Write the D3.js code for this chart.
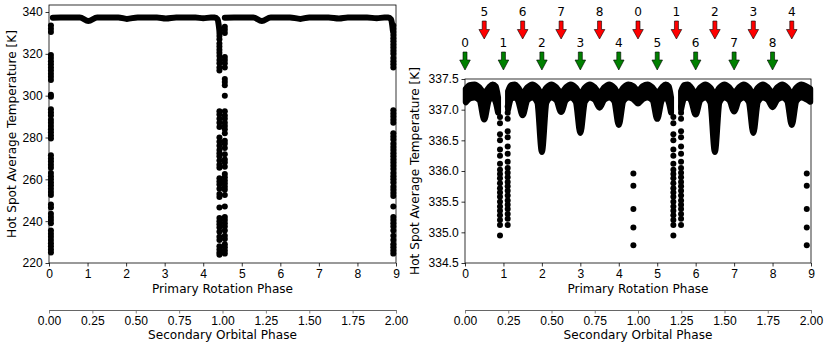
<!DOCTYPE html>
<html>
<head>
<meta charset="UTF-8" />
<script src="https://cdn.jsdelivr.net/npm/d3@7"></script>
<style>
  body { margin: 0; background: #fff; }
  svg { display: block; font-family: "DejaVu Sans", sans-serif; }
  .tick text { font-size: 12.1px; fill: #000; }
  .lbl { font-size: 12.1px; fill: #000; }
</style>
</head>
<body>
<svg width="831" height="348"></svg>
<script>
// ---- data ----
const primaryTicks = [0, 1, 2, 3, 4, 5, 6, 7, 8, 9];
const secondaryTicks = [0, 0.25, 0.5, 0.75, 1, 1.25, 1.5, 1.75, 2];
const leftTempTicks = [220, 240, 260, 280, 300, 320, 340];
const rightTempTicks = [334.5, 335, 335.5, 336, 336.5, 337, 337.5];

// left panel: the hot band (two pieces) and the vertical drops
const leftBand1Phase = [0.1, 0.3, 0.8, 1.02, 1.25, 1.8, 2.02, 2.3, 2.8, 3.03, 3.3, 3.8, 4.0, 4.2, 4.3, 4.37, 4.4, 4.42];
const leftBand1Temp = [337.3, 337.4, 337.4, 335.7, 337.4, 337.4, 336.7, 337.4, 337.4, 336.9, 337.4, 337.4, 337.0, 337.4, 337.4, 336.5, 334, 331];
const leftBand2Phase = [4.56, 4.8, 5.3, 5.52, 5.75, 6.25, 6.52, 6.75, 7.25, 7.52, 7.75, 8.25, 8.5, 8.7, 8.8, 8.87, 8.9, 8.92];
const leftBand2Temp = [337.3, 337.4, 337.4, 335.7, 337.4, 337.4, 336.7, 337.4, 337.4, 336.9, 337.4, 337.4, 337.0, 337.4, 337.4, 336.5, 334, 331];

const leftDropPhases = [0.05, 4.42, 4.56, 8.93];
const leftDrop0 = [333.5, 332, 330.5, 319.5, 318, 316.5, 315, 313.5, 312, 310.5, 309, 307.5, 300.5, 299.5, 293.5, 292, 290.5, 288.5, 287, 285.5, 284, 282.5, 281, 279.5, 271.5, 270, 268.5, 267, 265.5, 263, 261.5, 260, 258.5, 257, 255.5, 254, 252.5, 248, 246.5, 243.5, 242, 240.5, 239, 235.5, 234, 232.5, 231, 229.5, 228, 226.5, 225];
const leftDrop1 = [330, 328.5, 327, 325, 323.5, 322, 320.5, 319, 317, 315.5, 313.5, 312, 292.5, 291, 289, 287, 285, 280, 278, 276, 274, 272.5, 271, 269, 267, 265.5, 260.5, 259, 257.5, 255.5, 253, 251.5, 246.5, 241.5, 240, 238.5, 237, 235, 232.5, 231, 228, 226.5, 225, 224];
const leftDrop2 = [333, 331.5, 330, 318.5, 317, 315.5, 313.5, 308, 306.5, 305, 300, 292.5, 290.5, 289, 287, 285.5, 284, 282, 278.5, 277, 275, 272, 269.5, 268, 266, 262.5, 261, 259.5, 258, 256.5, 255, 252.5, 247, 242, 240.5, 239, 237.5, 235.5, 233, 231.5, 229, 227.5, 226, 224.5];
const leftDrop3 = [333.5, 332, 330.5, 329, 327.5, 326, 324.5, 323, 321.5, 320, 318, 316.5, 315, 313.5, 293, 291.5, 290, 288.5, 287, 282, 280.5, 279, 277, 275.5, 274, 272.5, 271, 269.5, 268, 266.5, 265, 263, 261.5, 260, 258.5, 256.5, 255, 253.5, 252, 247, 242, 240.5, 239, 237.5, 235.5, 233, 231, 229, 227.5, 226, 224.5];

// right panel: band envelopes in three pieces
const rightBandAPhase = [0.02, 0.12, 0.25, 0.38, 0.5, 0.62, 0.72, 0.8, 0.86];
const rightBandAUpper = [337.34, 337.4, 337.41, 337.36, 337.27, 337.36, 337.41, 337.38, 337.2];
const rightBandALower = [337.12, 337.18, 337.2, 337.15, 336.84, 337.15, 337.2, 337.12, 336.95];

const rightBandBPhase = [1.12, 1.2, 1.3, 1.38, 1.5, 1.62, 1.75, 1.88, 2.0, 2.12, 2.25, 2.38, 2.5, 2.62, 2.75, 2.88, 3.0, 3.12, 3.25, 3.38, 3.5, 3.62, 3.75, 3.88, 4.0, 4.12, 4.25, 4.38, 4.5, 4.62, 4.75, 4.88, 5.0, 5.12, 5.22, 5.3, 5.36];
const rightBandBUpper = [337.3, 337.4, 337.41, 337.36, 337.27, 337.36, 337.41, 337.36, 337.26, 337.36, 337.41, 337.36, 337.27, 337.36, 337.41, 337.36, 337.26, 337.36, 337.41, 337.36, 337.27, 337.36, 337.41, 337.36, 337.26, 337.36, 337.41, 337.38, 337.31, 337.38, 337.41, 337.36, 337.27, 337.36, 337.41, 337.38, 337.2];
const rightBandBLower = [337.0, 337.18, 337.2, 337.15, 336.91, 337.15, 337.2, 337.12, 336.31, 337.12, 337.2, 337.15, 336.96, 337.15, 337.2, 337.13, 336.62, 337.13, 337.2, 337.16, 337.03, 337.16, 337.2, 337.14, 336.75, 337.14, 337.2, 337.17, 337.1, 337.17, 337.2, 337.15, 336.85, 337.15, 337.2, 337.12, 336.95];

const rightBandCPhase = [5.62, 5.7, 5.8, 5.88, 6.0, 6.12, 6.25, 6.38, 6.5, 6.62, 6.75, 6.88, 7.0, 7.12, 7.25, 7.38, 7.5, 7.62, 7.75, 7.88, 8.0, 8.12, 8.25, 8.38, 8.5, 8.62, 8.75, 8.88, 8.98];
const rightBandCUpper = [337.3, 337.4, 337.41, 337.36, 337.27, 337.36, 337.41, 337.36, 337.26, 337.36, 337.41, 337.36, 337.27, 337.36, 337.41, 337.36, 337.26, 337.36, 337.41, 337.36, 337.27, 337.36, 337.41, 337.36, 337.26, 337.36, 337.41, 337.38, 337.34];
const rightBandCLower = [337.0, 337.18, 337.2, 337.15, 336.92, 337.15, 337.2, 337.12, 336.31, 337.12, 337.2, 337.15, 336.97, 337.15, 337.2, 337.13, 336.62, 337.13, 337.2, 337.16, 337.04, 337.16, 337.2, 337.14, 336.75, 337.14, 337.2, 337.17, 337.13];

const rightColPhases = [0.91, 1.11, 5.42, 5.62];
const rightColA = [336.88, 336.78, 336.6, 336.5, 336.35, 336.25, 336.12, 336.02, 335.95, 335.88, 335.8, 335.72, 335.65, 335.58, 335.5, 335.42, 335.35, 335.28, 335.2, 335.12, 334.95];
const rightColB = [337.05, 336.95, 336.85, 336.65, 336.55, 336.4, 336.28, 336.15, 336.05, 335.97, 335.9, 335.82, 335.75, 335.68, 335.6, 335.52, 335.45, 335.38, 335.3, 335.22, 335.12];
const rightColC = [336.88, 336.78, 336.6, 336.5, 336.35, 336.25, 336.12, 336.02, 335.95, 335.88, 335.8, 335.72, 335.65, 335.58, 335.5, 335.42, 335.35, 335.28, 335.2, 335.12, 334.95];
const rightColD = [337.05, 336.95, 336.85, 336.65, 336.55, 336.4, 336.28, 336.15, 336.05, 335.97, 335.9, 335.82, 335.75, 335.68, 335.6, 335.52, 335.45, 335.38, 335.3, 335.22, 335.12];

const rightDotPhases = [4.38, 8.89];
const rightDotTemps = [335.96, 335.76, 335.38, 335.08, 334.79];

// arrows above the right panel
const greenPhases = [0, 1, 2, 3, 4, 5, 6, 7, 8];
const greenLabels = ['0', '1', '2', '3', '4', '5', '6', '7', '8'];
const redPhases = [0.5, 1.5, 2.5, 3.5, 4.5, 5.5, 6.5, 7.5, 8.5];
const redLabels = ['5', '6', '7', '8', '0', '1', '2', '3', '4'];

// ---- drawing ----
const svg = d3.select('svg');
const R = 3;

function panel(p) {
  const g = svg.append('g');
  const x = d3.scaleLinear().domain([0, 9]).range([p.x0, p.x1]);
  const x2 = d3.scaleLinear().domain([0, 2]).range([p.x0, p.x1]);
  const y = d3.scaleLinear().domain(p.yDomain).range([p.y1, p.y0]);

  const ax = g.append('g').attr('transform', `translate(0,${p.y1})`)
    .call(d3.axisBottom(x).tickValues(primaryTicks).tickFormat(d3.format('d')).tickSize(3.5).tickPadding(3.3).tickSizeOuter(0));
  const ay = g.append('g').attr('transform', `translate(${p.x0},0)`)
    .call(d3.axisLeft(y).tickValues(p.yTicks).tickFormat(p.yFormat).tickSize(3.5).tickPadding(2.8).tickSizeOuter(0));
  const as = g.append('g').attr('transform', 'translate(0,310)')
    .call(d3.axisBottom(x2).tickValues(secondaryTicks).tickFormat(d3.format('.2f')).tickSize(3.5).tickPadding(3.3).tickSizeOuter(0));
  [ax, ay].forEach(a => {
    a.select('.domain').remove();
    a.selectAll('.tick line').attr('stroke', '#000').attr('stroke-width', 0.8);
  });
  as.select('.domain').attr('stroke', '#666').attr('stroke-width', 1);
  as.selectAll('.tick line').attr('stroke', '#666').attr('stroke-width', 0.8);
  g.selectAll('.tick text').attr('font-family', null).attr('font-size', null);

  g.append('text').attr('class', 'lbl').attr('x', (p.x0 + p.x1) / 2).attr('y', 292.5)
    .attr('text-anchor', 'middle').text('Primary Rotation Phase');
  g.append('text').attr('class', 'lbl').attr('x', (p.x0 + p.x1) / 2).attr('y', 338.5)
    .attr('text-anchor', 'middle').text('Secondary Orbital Phase');
  g.append('text').attr('class', 'lbl')
    .attr('transform', `translate(${p.labelX},${(p.y0 + p.y1) / 2}) rotate(-90)`)
    .attr('text-anchor', 'middle').text('Hot Spot Average Temperature [K]');

  const plot = g.append('g');
  g.append('rect').attr('x', p.x0).attr('y', p.y0)
    .attr('width', p.x1 - p.x0).attr('height', p.y1 - p.y0)
    .attr('fill', 'none').attr('stroke', '#000').attr('stroke-width', 0.8);
  return { x, y, plot };
}

// left panel
const L = panel({ x0: 49, x1: 396, y0: 5, y1: 263, yDomain: [220, 343.35], yTicks: leftTempTicks, yFormat: d3.format('d'), labelX: 16 });
const leftLine = d3.line().x(d => L.x(d[0])).y(d => L.y(d[1])).curve(d3.curveMonotoneX);
[[leftBand1Phase, leftBand1Temp], [leftBand2Phase, leftBand2Temp]].forEach(([ph, t]) => {
  L.plot.append('path').datum(d3.zip(ph, t)).attr('d', leftLine)
    .attr('fill', 'none').attr('stroke', '#000').attr('stroke-width', 2 * R)
    .attr('stroke-linecap', 'round').attr('stroke-linejoin', 'round');
});
[leftDrop0, leftDrop1, leftDrop2, leftDrop3].forEach((temps, i) => {
  L.plot.selectAll(null).data(temps).join('circle')
    .attr('cx', L.x(leftDropPhases[i])).attr('cy', d => L.y(d)).attr('r', R).attr('fill', '#000');
});

// right panel
const Rp = panel({ x0: 465, x1: 811, y0: 79, y1: 263, yDomain: [334.5, 337.5], yTicks: rightTempTicks, yFormat: d3.format('.1f'), labelX: 419 });
const band = d3.area().x(d => Rp.x(d[0])).y0(d => Rp.y(d[2])).y1(d => Rp.y(d[1])).curve(d3.curveMonotoneX);
[[rightBandAPhase, rightBandAUpper, rightBandALower],
 [rightBandBPhase, rightBandBUpper, rightBandBLower],
 [rightBandCPhase, rightBandCUpper, rightBandCLower]].forEach(([ph, u, l]) => {
  Rp.plot.append('path').datum(d3.zip(ph, u, l)).attr('d', band)
    .attr('fill', '#000').attr('stroke', '#000').attr('stroke-width', 2 * R)
    .attr('stroke-linejoin', 'round');
});
[rightColA, rightColB, rightColC, rightColD].forEach((temps, i) => {
  Rp.plot.selectAll(null).data(temps).join('circle')
    .attr('cx', Rp.x(rightColPhases[i])).attr('cy', d => Rp.y(d)).attr('r', R).attr('fill', '#000');
});
rightDotPhases.forEach(ph => {
  Rp.plot.selectAll(null).data(rightDotTemps).join('circle')
    .attr('cx', Rp.x(ph)).attr('cy', d => Rp.y(d)).attr('r', R).attr('fill', '#000');
});

// arrows
function arrows(phases, labels, color, top, headBase, tip, labelY) {
  const path = `M-2,${top}H2V${headBase}H5.3L0,${tip}L-5.3,${headBase}H-2Z`;
  const g = svg.append('g').selectAll(null).data(phases).join('g')
    .attr('transform', d => `translate(${Rp.x(d)},0)`);
  g.append('path').attr('d', path).attr('fill', color).attr('stroke', '#000').attr('stroke-width', 0.6);
  g.append('text').attr('class', 'lbl').attr('y', labelY).attr('text-anchor', 'middle')
    .text((d, i) => labels[i]);
}
arrows(greenPhases, greenLabels, '#008000', 52, 60, 70, 46.8);
arrows(redPhases, redLabels, '#ff0000', 21, 29.5, 39, 16);
</script>
</body>
</html>
